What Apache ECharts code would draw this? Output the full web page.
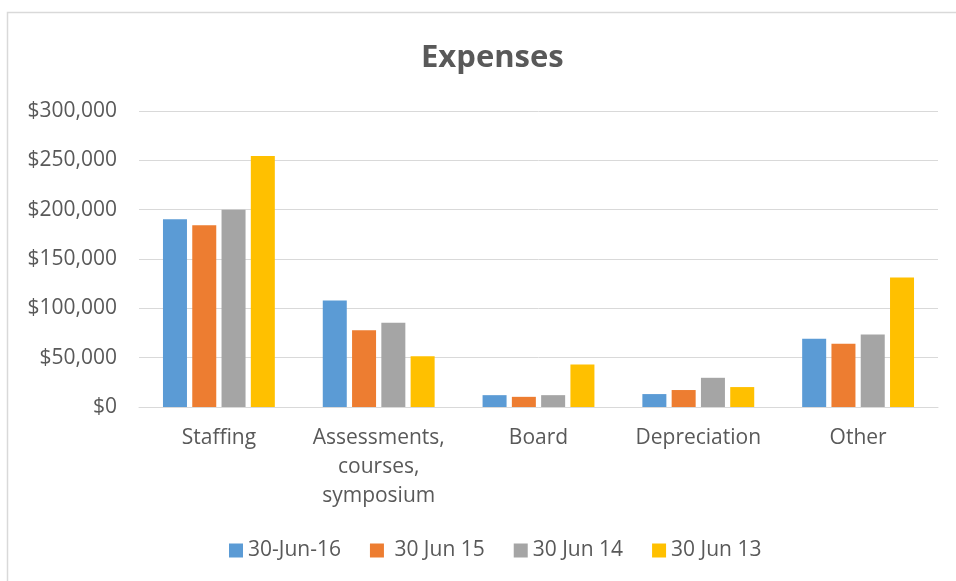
<!DOCTYPE html>
<html><head><meta charset="utf-8">
<script src="https://cdn.jsdelivr.net/npm/echarts@6/dist/echarts.min.js"></script>
<style>html,body{margin:0;padding:0;background:#fff}#c{width:956px;height:581px}</style>
</head><body><div id="c"></div>
<script>
const categories = ['Staffing', 'Assessments,\ncourses,\nsymposium', 'Board', 'Depreciation', 'Other'];
const seriesNames = ['30-Jun-16', ' 30 Jun 15', '30 Jun 14', '30 Jun 13'];
const s2016 = [190200, 108000, 12000, 13100, 69100];
const s2015 = [184100, 77800, 10300, 17200, 64000];
const s2014 = [200000, 85300, 12000, 29600, 73400];
const s2013 = [254500, 51500, 43100, 20200, 131300];
const colors = ['#5B9BD5', '#ED7D31', '#A5A5A5', '#FFC000'];
const yTicks = [0, 50000, 100000, 150000, 200000, 250000, 300000];

const font = '"Open Sans", sans-serif';
const chart = echarts.init(document.getElementById('c'));
const data = [s2016, s2015, s2014, s2013];
chart.setOption({
  animation: false,
  color: colors,
  textStyle: { fontFamily: font },
  graphic: [{ type: 'rect', shape: { x: 7.5, y: 12.5, width: 960, height: 580 }, style: { fill: 'none', stroke: '#D9D9D9', lineWidth: 1.5 } }],
  title: { text: 'Expenses', left: 416, top: 38, textStyle: { fontSize: 31, fontWeight: 'bold', color: '#595959', fontFamily: font } },
  legend: {
    bottom: 15, left: 224, itemWidth: 14, itemHeight: 14, itemGap: 29,
    icon: 'rect',
    textStyle: { fontSize: 21, color: '#595959', fontFamily: font },
    data: seriesNames
  },
  grid: { left: 139, right: 18, top: 111, bottom: 174, containLabel: false },
  xAxis: {
    type: 'category', data: categories,
    axisLine: { lineStyle: { color: '#D9D9D9', width: 1 } },
    axisTick: { show: false },
    axisLabel: { fontSize: 21, color: '#595959', fontFamily: font, lineHeight: 29, margin: 17, interval: 0 }
  },
  yAxis: {
    type: 'value', min: yTicks[0], max: yTicks[yTicks.length - 1], interval: 50000,
    axisLine: { show: false }, axisTick: { show: false },
    splitLine: { lineStyle: { color: '#D9D9D9', width: 1 } },
    axisLabel: { fontSize: 21, color: '#595959', fontFamily: font, margin: 22,
      formatter: v => '$' + v.toLocaleString('en-US') }
  },
  series: seriesNames.map((n, i) => ({
    name: n, type: 'bar', data: data[i], barGap: '22%', barCategoryGap: '30%',
    itemStyle: { color: colors[i] }
  }))
});
</script></body></html>
